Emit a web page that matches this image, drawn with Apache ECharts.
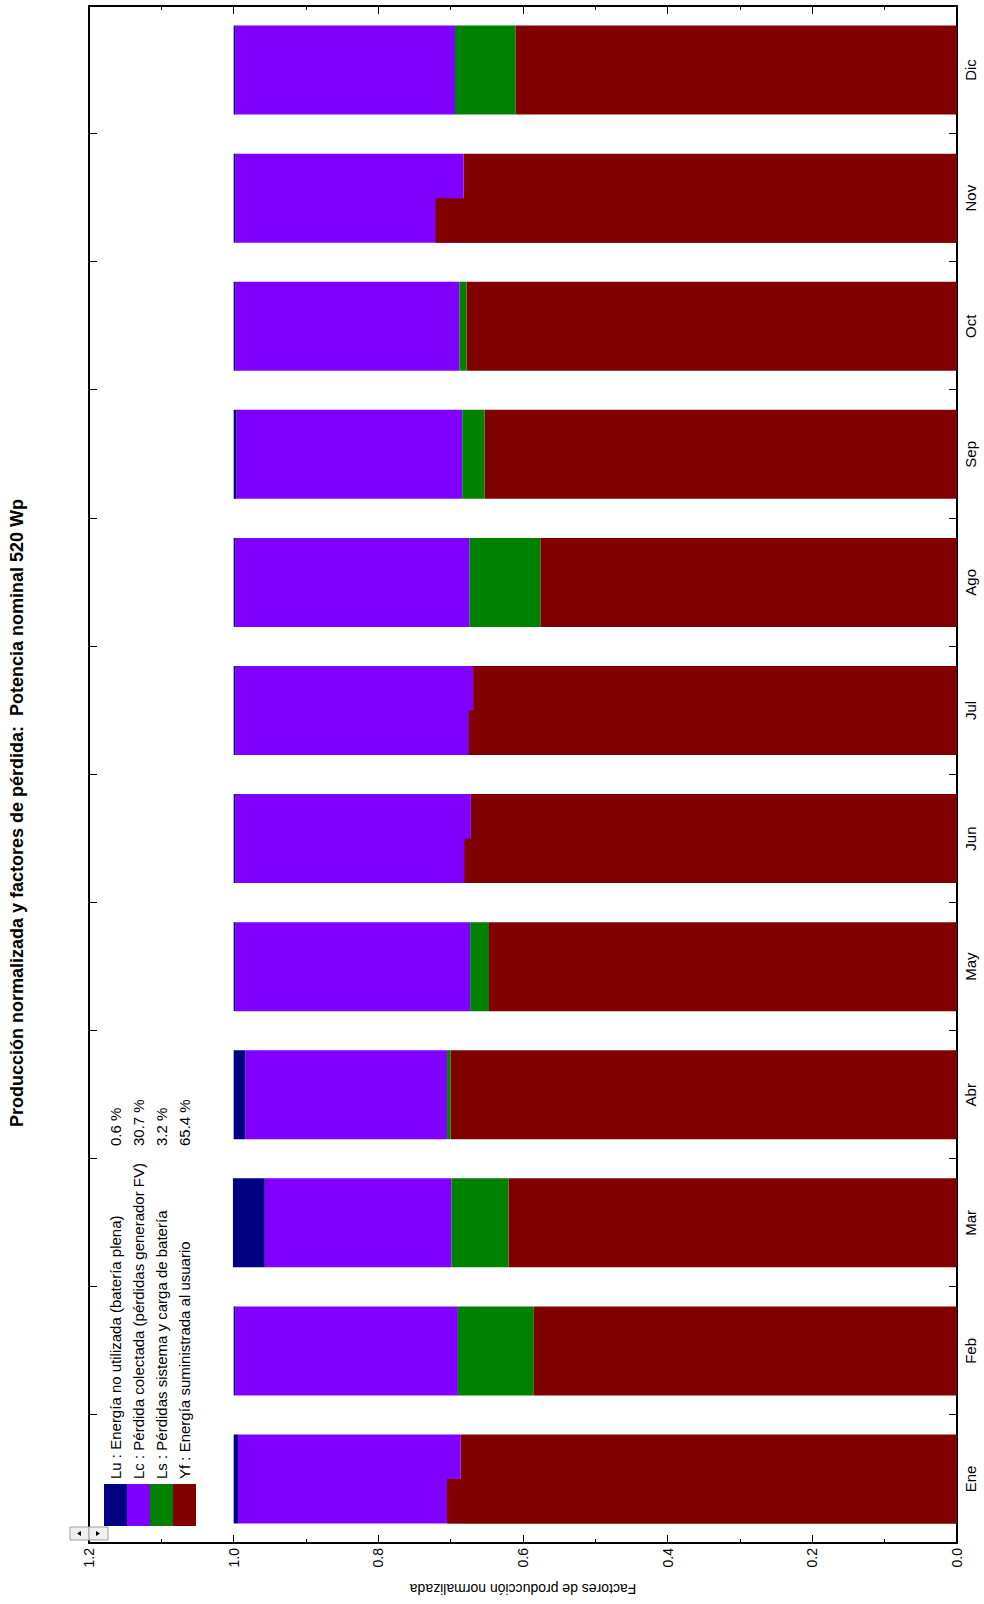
<!DOCTYPE html>
<html>
<head>
<meta charset="utf-8">
<title>Producción normalizada y factores de pérdida</title>
<script src="https://cdn.jsdelivr.net/npm/echarts@6/dist/echarts.min.js"></script>
<style>
html, body { margin: 0; padding: 0; background: #fff; overflow: hidden; }
#wrap { position: relative; width: 984px; height: 1604px; overflow: hidden; }
/* the chart is drawn upright (1604 x 984) and turned a quarter turn to the left */
#chart { position: absolute; left: 0; top: 0; width: 1604px; height: 984px;
	transform-origin: 0 0; transform: translate(0, 1604px) rotate(-90deg); }
</style>
</head>
<body>
<div id="wrap"><div id="chart"></div></div>
<script type="text/javascript">
var months = ['Ene', 'Feb', 'Mar', 'Abr', 'May', 'Jun', 'Jul', 'Ago', 'Sep', 'Oct', 'Nov', 'Dic'];
var names = [
	'Lu : Energía no utilizada (batería plena)',
	'Lc : Pérdida colectada (pérdidas generador FV)',
	'Ls : Pérdidas sistema y carga de batería',
	'Yf : Energía suministrada al usuario'
];
var percents = ['0.6 %', '30.7 %', '3.2 %', '65.4 %'];
var yf = [0.686, 0.585, 0.620, 0.700, 0.647, 0.672, 0.669, 0.576, 0.653, 0.678, 0.682, 0.610];
var ls = [0, 0.105, 0.079, 0.005, 0.026, 0, 0, 0.098, 0.031, 0.010, 0, 0.084];
var lc = [0.308, 0.308, 0.258, 0.279, 0.325, 0.326, 0.329, 0.324, 0.312, 0.310, 0.316, 0.304];
var lu = [0.006, 0.002, 0.044, 0.016, 0.002, 0.002, 0.002, 0.002, 0.004, 0.002, 0.002, 0.002];
// Yf drawn over the left half of some bars (the step seen in the picture)
var yfHalf = [0.705, null, null, null, null, 0.681, 0.675, null, null, null, 0.721, null];
var valueTicks = [0, 0.2, 0.4, 0.6, 0.8, 1.0, 1.2];

var colors = ['#000080', '#8000ff', '#008000', '#800000'];
var font = '"Liberation Sans", Arial, sans-serif';
var title = 'Producción normalizada y factores de pérdida:  Potencia nominal 520 Wp';

var chart = echarts.init(document.getElementById('chart'), null, {renderer: 'svg'});

function catAxis(pos, showLabel) {
	return {
		type: 'category',
		data: months,
		position: pos,
		axisLine: {show: true, onZero: false, lineStyle: {color: '#000', width: 2}},
		axisTick: {show: true, inside: true, length: 8, lineStyle: {color: '#000', width: 1}},
		axisLabel: {show: showLabel, color: '#000', fontSize: 15, fontFamily: font, margin: 6},
		splitLine: {show: false}
	};
}

function valAxis(pos, showLabel) {
	return {
		type: 'value',
		position: pos,
		min: valueTicks[0],
		max: valueTicks[valueTicks.length - 1],
		interval: 0.2,
		axisLine: {show: true, onZero: false, lineStyle: {color: '#000', width: 2}},
		axisTick: {show: true, inside: true, length: 8, lineStyle: {color: '#000', width: 1}},
		minorTick: {show: true, splitNumber: 2, length: 4, lineStyle: {color: '#000', width: 1}},
		axisLabel: {
			show: showLabel, color: '#000', fontSize: 14, fontFamily: font, margin: 5,
			formatter: function (v) { return v.toFixed(1); }
		},
		splitLine: {show: false},
		name: showLabel ? 'Factores de producción normalizada' : '',
		nameLocation: 'middle',
		nameRotate: 90,
		nameGap: 39,
		nameTextStyle: {color: '#000', fontSize: 14, fontFamily: font}
	};
}

function barSeries(i, data) {
	return {
		name: names[i],
		type: 'bar',
		stack: 'a',
		data: data,
		barWidth: 89,
		barGap: '-100%',
		itemStyle: {color: colors[i]}
	};
}

var option = {
	animation: false,
	backgroundColor: '#fff',
	grid: {left: 61, right: 6, top: 89, bottom: 27},
	xAxis: [catAxis('bottom', true), catAxis('top', false)],
	yAxis: [valAxis('left', true), valAxis('right', false)],
	legend: {
		data: names,
		orient: 'vertical',
		left: 78,
		top: 104,
		padding: 0,
		icon: 'rect',
		itemWidth: 42,
		itemHeight: 23,
		itemGap: 0,
		itemTextGap: 7,
		selectedMode: false,
		formatter: function (name) {
			return '{n|' + name + '}{p|' + percents[names.indexOf(name)] + '}';
		},
		textStyle: {
			color: '#000', fontSize: 15, fontFamily: font,
			rich: {
				n: {width: 333, fontSize: 15, fontFamily: font, color: '#000'},
				p: {fontSize: 15, fontFamily: font, color: '#000'}
			}
		}
	},
	graphic: [
		{
			type: 'text', x: 791, y: 8, z: 10,
			style: {text: title, fill: '#000', fontSize: 18, fontWeight: 'bold', fontFamily: font,
				align: 'center', verticalAlign: 'top'}
		},
		{type: 'rect', z: 10, shape: {x: 64, y: 70, width: 13, height: 19}, style: {fill: '#f0f0f0', stroke: '#a0a0a0', lineWidth: 1}},
		{type: 'rect', z: 10, shape: {x: 64, y: 89, width: 13, height: 19}, style: {fill: '#f0f0f0', stroke: '#a0a0a0', lineWidth: 1}},
		{type: 'polygon', z: 11, shape: {points: [[68, 81], [73, 81], [70.5, 77]]}, style: {fill: '#000'}},
		{type: 'polygon', z: 11, shape: {points: [[68, 96], [73, 96], [70.5, 100]]}, style: {fill: '#000'}}
	],
	series: [
		{
			name: 'Yf-half',
			type: 'bar',
			stack: 'b',
			data: yfHalf,
			barWidth: 44.5,
			barGap: '-100%',
			z: 3,
			silent: true,
			itemStyle: {color: colors[3]}
		},
		barSeries(3, yf),
		barSeries(2, ls),
		barSeries(1, lc),
		barSeries(0, lu)
	]
};
chart.setOption(option);
</script>
</body>
</html>
